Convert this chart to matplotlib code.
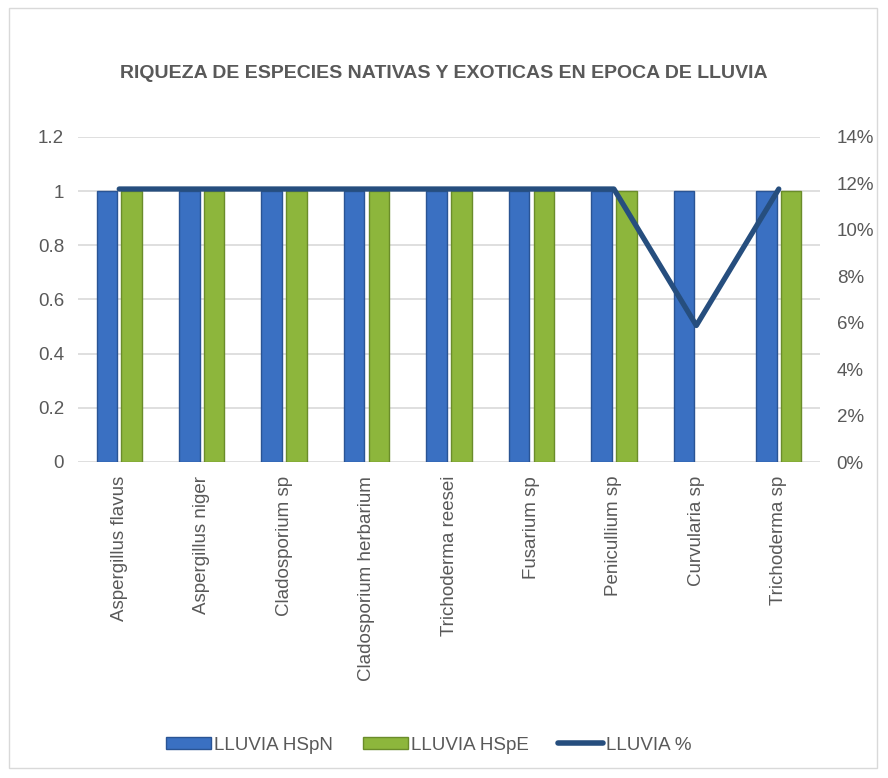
import matplotlib.pyplot as plt
import numpy as np
from matplotlib.ticker import FuncFormatter
from matplotlib.patches import Rectangle

# data
especies = ["Aspergillus flavus", "Aspergillus niger", "Cladosporium sp",
            "Cladosporium herbarium", "Trichoderma reesei", "Fusarium sp",
            "Penicullium sp", "Curvularia sp", "Trichoderma sp"]
hspn = [1, 1, 1, 1, 1, 1, 1, 1, 1]
hspe = [1, 1, 1, 1, 1, 1, 1, 0, 1]
porcentaje = [0.1176, 0.1176, 0.1176, 0.1176, 0.1176, 0.1176, 0.1176, 0.0588, 0.1176]

plt.rcParams['font.family'] = ['Liberation Sans', 'DejaVu Sans']

fig = plt.figure(figsize=(8.88, 7.78), dpi=100)
ax = fig.add_axes([78 / 888, 1 - 462 / 778, (820 - 78) / 888, (462 - 137) / 778])

x = np.arange(len(especies))
w = 0.25
ax.bar(x - 0.15, hspn, w, color="#3A70C2", edgecolor="#2A5494", linewidth=1, zorder=2)
barras_e = ax.bar(x + 0.15, hspe, w, color="#8DB63C", edgecolor="#6A8C2A", linewidth=1, zorder=2)
for b, v in zip(barras_e, hspe):
    if v == 0:
        b.set_visible(False)

ax.set_xlim(-0.5, len(especies) - 0.5)
ax.set_ylim(0, 1.2)
ax.set_yticks(np.arange(0, 1.21, 0.2))
ax.yaxis.set_major_formatter(FuncFormatter(lambda v, p: "0" if v == 0 else ("1" if abs(v - 1) < 1e-9 else f"{v:.1f}")))
ax.grid(axis="y", color="#D9D9D9", linewidth=1.2, zorder=0)
ax.set_axisbelow(True)
for s in ax.spines.values():
    s.set_visible(False)
ax.tick_params(axis="both", length=0, labelsize=13.5, colors="#595959", pad=10)
ax.set_xticks(x)
ax.set_xticklabels(especies, rotation=90)

ax2 = ax.twinx()
ax2.plot(x, porcentaje, color="#264E7E", linewidth=3.8, solid_capstyle="round",
         solid_joinstyle="round", zorder=3, label="LLUVIA %")
ax2.set_ylim(0, 0.14)
ax2.set_yticks(np.arange(0, 0.141, 0.02))
ax2.yaxis.set_major_formatter(FuncFormatter(lambda v, p: f"{v * 100:.0f}%"))
for s in ax2.spines.values():
    s.set_visible(False)
ax2.tick_params(axis="y", length=0, labelsize=13.5, colors="#595959", pad=12)

fig.text(0.5, 1 - 73 / 778, "RIQUEZA DE ESPECIES NATIVAS Y EXOTICAS EN EPOCA DE LLUVIA",
         ha="center", va="center", fontsize=14, fontweight="bold", color="#595959")

# legend
h1 = Rectangle((0, 0), 1, 1, facecolor="#3A70C2", edgecolor="#2A5494")
h2 = Rectangle((0, 0), 1, 1, facecolor="#8DB63C", edgecolor="#6A8C2A")
h3 = plt.Line2D([], [], color="#264E7E", linewidth=4, solid_capstyle="round")
fig.legend([h1, h2, h3], ["LLUVIA HSpN", "LLUVIA HSpE", "LLUVIA %"],
           loc="center", bbox_to_anchor=(0.483, 1 - 745 / 778), ncol=3, frameon=False,
           fontsize=13.5, labelcolor="#595959", handlelength=2.4, handleheight=0.6,
           handletextpad=0.15, columnspacing=1.6)

fig.patches.append(Rectangle((9 / 888, 10 / 778), 868 / 888, 760 / 778, transform=fig.transFigure,
                             fill=False, edgecolor="#D9D9D9", linewidth=1))

fig.savefig("out.png", dpi=100, facecolor="white")
